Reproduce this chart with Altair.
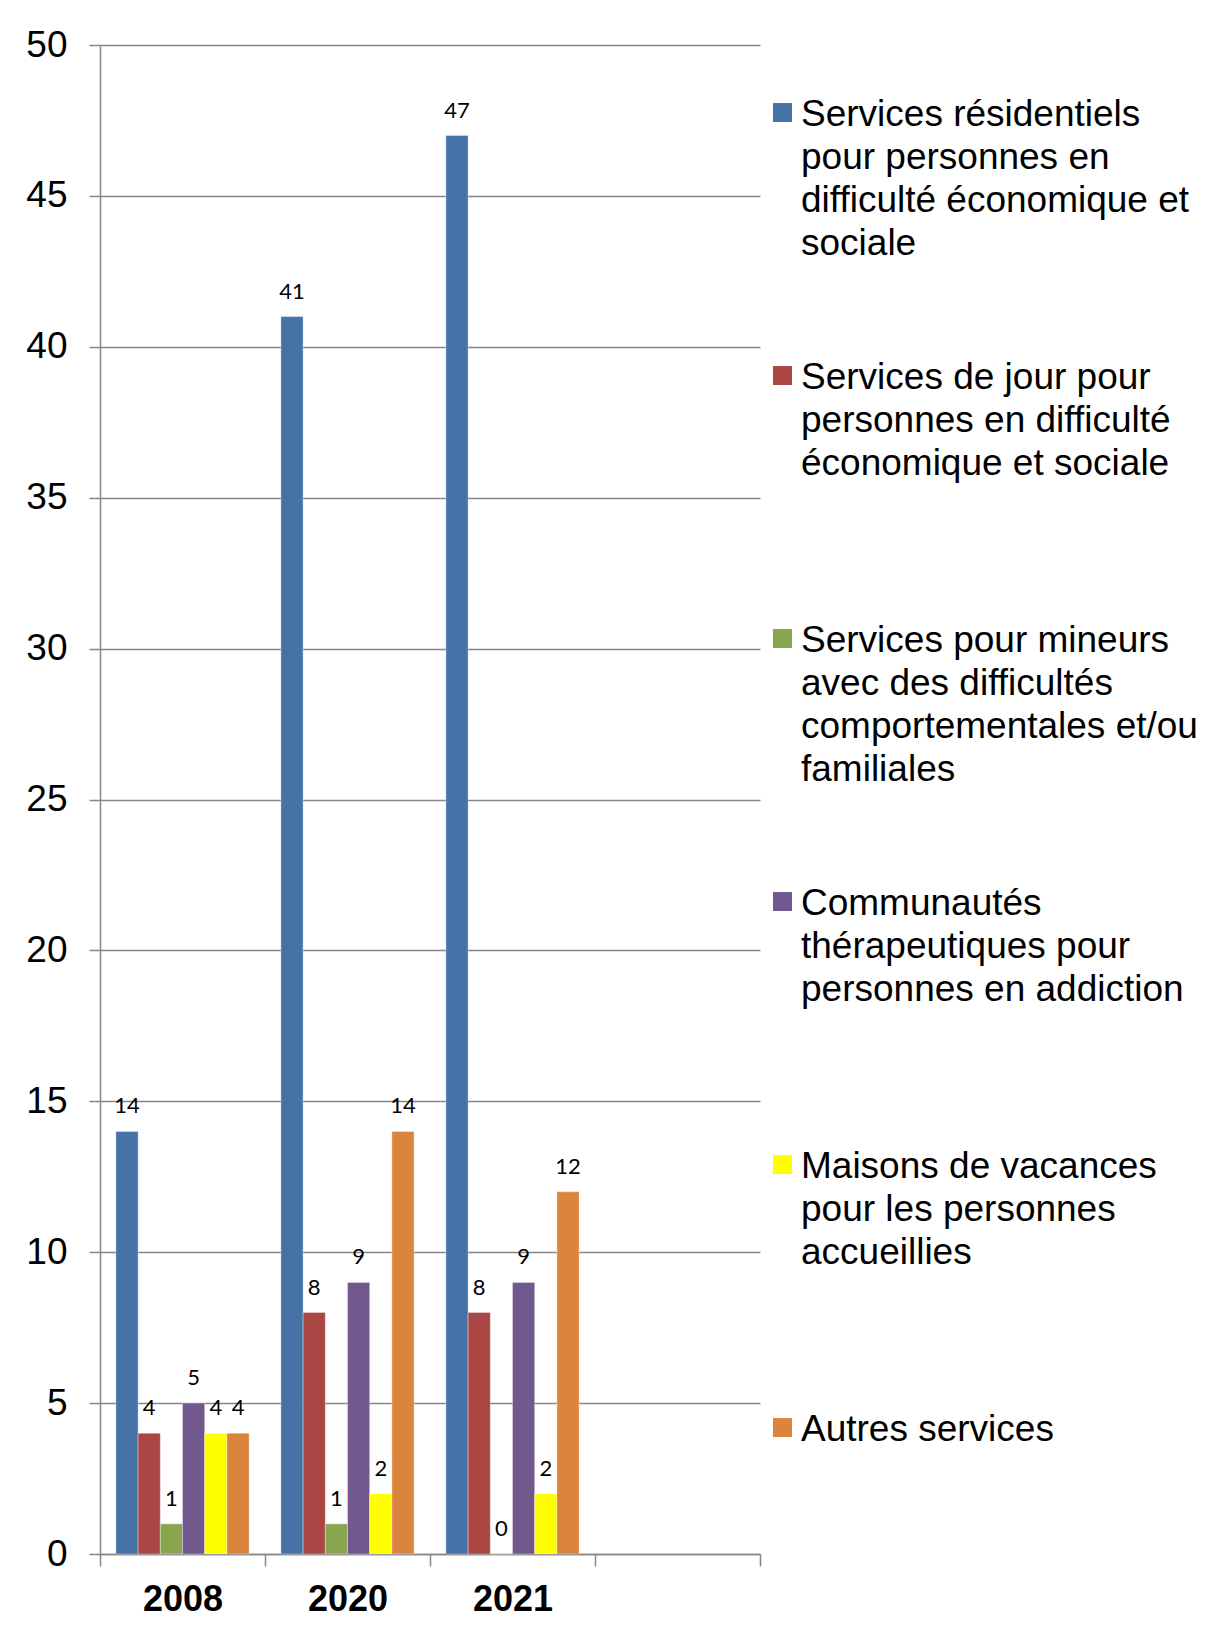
import json
import altair as alt
import pandas as pd

years = ["2008", "2020", "2021"]
x_domain = ["2008", "2020", "2021", ""]
series = [
    "Services résidentiels pour personnes en difficulté économique et sociale",
    "Services de jour pour personnes en difficulté économique et sociale",
    "Services pour mineurs avec des difficultés comportementales et/ou familiales",
    "Communautés thérapeutiques pour personnes en addiction",
    "Maisons de vacances pour les personnes accueillies",
    "Autres services",
]
legend_lines = [
    ["Services résidentiels", "pour personnes en", "difficulté économique et", "sociale"],
    ["Services de jour pour", "personnes en difficulté", "économique et sociale"],
    ["Services pour mineurs", "avec des difficultés", "comportementales et/ou", "familiales"],
    ["Communautés", "thérapeutiques pour", "personnes en addiction"],
    ["Maisons de vacances", "pour les personnes", "accueillies"],
    ["Autres services"],
]
values_2008 = [14, 4, 1, 5, 4, 4]
values_2020 = [41, 8, 1, 9, 2, 14]
values_2021 = [47, 8, 0, 9, 2, 12]
colors = ["#4572A7", "#AA4643", "#89A54E", "#71588F", "#FFFF00", "#DB843D"]
y_ticks = [0, 5, 10, 15, 20, 25, 30, 35, 40, 45, 50]

rows = []
for year, vals in zip(years, [values_2008, values_2020, values_2021]):
    for s, v in zip(series, vals):
        rows.append({"year": year, "series": s, "value": v})
df = pd.DataFrame(rows)

label_map = json.dumps(dict(zip(series, legend_lines)), ensure_ascii=False)

x_enc = alt.X(
    "year:N",
    scale=alt.Scale(domain=x_domain, paddingInner=0, paddingOuter=0),
    axis=alt.Axis(
        title=None,
        labelAngle=0,
        labelFont="Liberation Sans",
        labelFontSize=36,
        labelFontWeight="bold",
        labelColor="#000000",
        labelPadding=16,
        labelBaseline="top",
        tickBand="extent",
        tickSize=12,
        tickColor="#868686",
        domainColor="#868686",
        tickWidth=1.5,
        domainWidth=1.5,
        grid=False,
    ),
)
y_enc = alt.Y(
    "value:Q",
    scale=alt.Scale(domain=[0, 50], nice=False),
    axis=alt.Axis(
        title=None,
        values=y_ticks,
        labelFont="Liberation Sans",
        labelFontSize=37,
        labelColor="#000000",
        labelPadding=22,
        tickSize=11,
        tickColor="#868686",
        tickWidth=1.5,
        domainColor="#868686",
        domainWidth=1.5,
        gridColor="#868686",
        gridWidth=1.5,
    ),
)
off_scale = alt.Scale(paddingInner=0, paddingOuter=0.716)

bars = alt.Chart(df).mark_bar(stroke="#ffffff", strokeOpacity=0.35, strokeWidth=1).encode(
    x=x_enc,
    y=y_enc,
    xOffset=alt.XOffset("series:N", sort=series, scale=off_scale),
    color=alt.Color(
        "series:N",
        scale=alt.Scale(domain=series, range=colors),
        legend=alt.Legend(
            title=None,
            orient="none",
            legendX=664,
            legendY=33,
            padding=0,
            symbolType="M-1,0.69H1V2.69H-1Z",
            symbolSize=360,
            symbolStrokeWidth=0,
            labelFont="Liberation Sans",
            labelFontSize=37,
            labelColor="#000000",
            labelLimit=600,
            labelOffset=0,
            labelBaseline="top",
            labelExpr=f"{label_map}[datum.label]",
            gridAlign="all",
            rowPadding=79,
        ),
    ),
)

labels = alt.Chart(df).mark_text(
    font="Lato", fontSize=22, color="#000000", baseline="alphabetic", dy=-18
).encode(
    x=alt.X("year:N", scale=alt.Scale(domain=x_domain, paddingInner=0, paddingOuter=0)),
    y=alt.Y("value:Q"),
    xOffset=alt.XOffset("series:N", sort=series, scale=off_scale),
    text=alt.Text("value:Q"),
)

chart = (
    alt.layer(bars, labels)
    .properties(
        width=660,
        height=1509,
        autosize=alt.AutoSizeParams(type="none"),
        padding={"left": 92, "top": 37, "right": 446, "bottom": 67},
        background="#ffffff",
    )
    .configure(style={"guide-label": {"lineHeight": 43}})
    .configure_view(stroke=None)
)

chart.save("out.html", embed_options={"renderer": "svg", "actions": False})
